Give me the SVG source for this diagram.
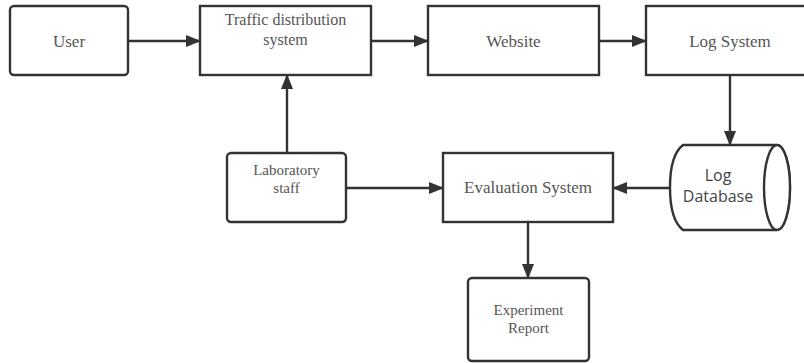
<svg xmlns="http://www.w3.org/2000/svg" width="804" height="363" viewBox="0 0 804 363">
<defs>
<marker id="arr" markerWidth="15" markerHeight="12" refX="14" refY="6" orient="auto" markerUnits="userSpaceOnUse">
<path d="M0,0 L15,6 L0,12 Z" fill="#333"/>
</marker>
<style>
.box{fill:#fff;stroke:#333;stroke-width:2.4}
.t{font-family:"Liberation Serif","Times New Roman",serif;fill:#555;text-anchor:middle}
.s{font-family:"Open Sans","Noto Sans",sans-serif;fill:#444;text-anchor:middle}
.c{fill:none;stroke:#333;stroke-width:2.4}
</style>
</defs>
<rect width="804" height="363" fill="#fff"/>
<g id="user"><rect class="box" x="10" y="6" width="118" height="69" rx="4"/><text class="t" x="69" y="47" font-size="17">User</text></g>
<g id="traffic"><rect class="box" x="200" y="6" width="171" height="69"/><text class="t" x="285.5" y="25" font-size="16">Traffic distribution</text><text class="t" x="285.5" y="45" font-size="16">system</text></g>
<g id="website"><rect class="box" x="428" y="6" width="171" height="69"/><text class="t" x="513.5" y="47" font-size="17">Website</text></g>
<g id="logsystem"><rect class="box" x="646" y="6" width="170" height="69"/><text class="t" x="730" y="47" font-size="17">Log System</text></g>
<g id="logdb"><path class="box" d="M683,145 L777,145 A13,42.5 0 0 1 777,230 L683,230 Q670,220 670,187.5 Q670,155 683,145 Z"/><ellipse class="box" cx="777" cy="187.5" rx="13" ry="42.5"/><text class="s" x="718" y="181" font-size="16">Log</text><text class="s" x="718" y="202" font-size="16">Database</text></g>
<g id="lab"><rect class="box" x="227" y="153" width="119" height="69" rx="4"/><text class="t" x="286.5" y="175" font-size="15">Laboratory</text><text class="t" x="286.5" y="193" font-size="15">staff</text></g>
<g id="eval"><rect class="box" x="443" y="153" width="170" height="69"/><text class="t" x="528" y="193" font-size="17">Evaluation System</text></g>
<g id="report"><rect class="box" x="468" y="278" width="121" height="83" rx="4"/><text class="t" x="528.5" y="315" font-size="15">Experiment</text><text class="t" x="528.5" y="333" font-size="15">Report</text></g>
<g id="connectors">
<line class="c" x1="128" y1="41" x2="200" y2="41" marker-end="url(#arr)"/>
<line class="c" x1="371" y1="41" x2="428" y2="41" marker-end="url(#arr)"/>
<line class="c" x1="599" y1="41" x2="646" y2="41" marker-end="url(#arr)"/>
<line class="c" x1="730" y1="75" x2="730" y2="145" marker-end="url(#arr)"/>
<line class="c" x1="670" y1="188" x2="613" y2="188" marker-end="url(#arr)"/>
<line class="c" x1="287" y1="153" x2="287" y2="75" marker-end="url(#arr)"/>
<line class="c" x1="346" y1="188" x2="443" y2="188" marker-end="url(#arr)"/>
<line class="c" x1="528" y1="222" x2="528" y2="278" marker-end="url(#arr)"/>
</g>
</svg>
